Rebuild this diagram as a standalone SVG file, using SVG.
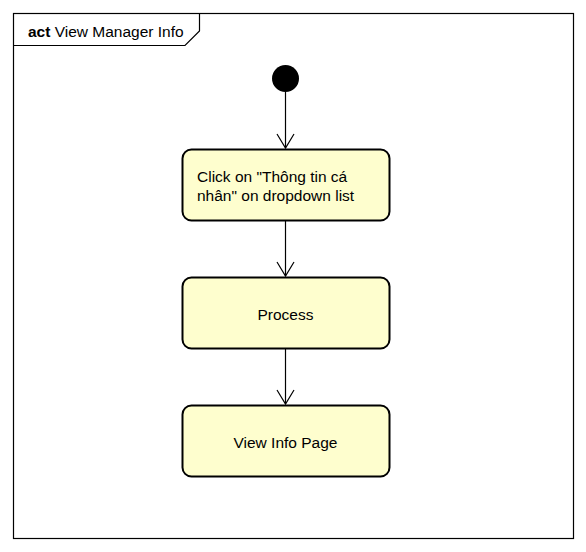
<svg xmlns="http://www.w3.org/2000/svg" width="586" height="552" viewBox="0 0 586 552">
<style>
.frame{fill:none;stroke:#000;stroke-width:1.2}
.act{fill:#FEFECE;stroke:#000;stroke-width:2}
.t{font-family:"Liberation Sans",Arial,sans-serif;font-size:15.5px;fill:#000}
.edge{stroke:#000;stroke-width:1.2;fill:none}
</style>
<rect width="586" height="552" fill="#fff"/>
<g id="frame">
<rect class="frame" x="13.5" y="13.5" width="560" height="525"/>
<path class="frame" d="M13.5,45.5 H185 L199.5,31 V13.5"/>
<text class="t" x="28" y="36.5" font-size="15px"><tspan font-weight="bold">act</tspan> View Manager Info</text>
</g>
<g id="connectors">
<path class="edge" d="M285.5,92 V148"/>
<path class="edge" d="M277,134 L285.5,148 L294,134"/>
<path class="edge" d="M285.5,221 V276"/>
<path class="edge" d="M277,262 L285.5,276 L294,262"/>
<path class="edge" d="M285.5,349 V404"/>
<path class="edge" d="M277,390 L285.5,404 L294,390"/>
</g>
<g id="start">
<circle cx="285.5" cy="78.5" r="13.5" fill="#000"/>
</g>
<g id="click">
<rect class="act" x="182.5" y="149.5" width="207" height="71" rx="9"/>
<text class="t" x="197" y="182">Click on "Thông tin cá</text>
<text class="t" x="197" y="201">nhân" on dropdown list</text>
</g>
<g id="process">
<rect class="act" x="182.5" y="277.5" width="207" height="71" rx="9"/>
<text class="t" x="285.5" y="319.5" text-anchor="middle">Process</text>
</g>
<g id="view">
<rect class="act" x="182.5" y="405.5" width="207" height="71" rx="9"/>
<text class="t" x="285.5" y="447.5" text-anchor="middle">View Info Page</text>
</g>
</svg>
